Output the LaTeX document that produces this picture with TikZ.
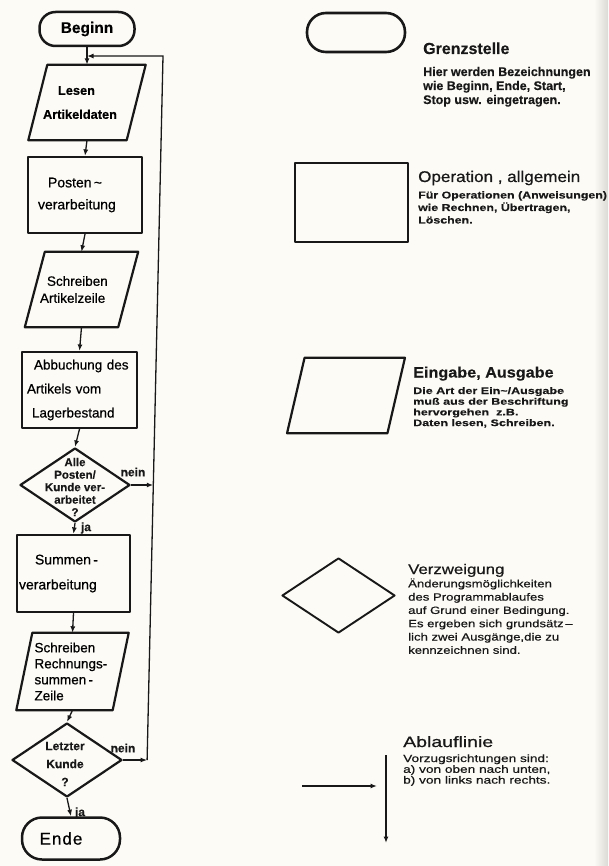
\documentclass[tikz,border=0pt]{standalone}
\usepackage{fontspec}
\setmainfont[UprightFeatures={FakeBold=0.6},BoldFeatures={FakeBold=0.3}]{Liberation Sans}
\usetikzlibrary{shapes.geometric,arrows.meta,calc}
\definecolor{ink}{RGB}{24,24,24}
\definecolor{paper}{RGB}{252,251,246}
\newcommand\legf[3]{\addfontfeature{FakeStretch=#1}\fontsize{#2}{#3}\selectfont}
\newcommand\drawpara[2]{\draw[shp] ($(#1.north west)+(#2,0)$) -- ($(#1.north east)+(#2,0)$) -- ($(#1.south east)-(#2,0)$) -- ($(#1.south west)-(#2,0)$) -- cycle;}
\begin{document}
\begin{tikzpicture}[x=1pt,y=-1pt,
  shp/.style={draw=ink,line width=2.2pt,line join=round},
  term/.style={shp,rectangle,inner sep=0pt},
  opbox/.style={shp,rectangle,align=left,inner ysep=0pt},
  iobox/.style={rectangle,align=left,inner ysep=0pt},
  decide/.style={shp,diamond,inner sep=0pt,minimum width=110pt,minimum height=74pt},
  conn/.style={draw=ink,line width=1.3pt},
  arr/.style={conn,-{Latex[length=6.5pt,width=5pt]}},
  lab/.style={font=\bfseries\fontsize{12}{14}\selectfont,inner sep=0pt,text=ink},
  leg/.style={anchor=base west,inner sep=0pt,text=ink},
]
\useasboundingbox (0,0) rectangle (608,866);
\fill[paper] (0,0) rectangle (608,866);
\shade[left color=paper,right color={rgb,255:red,220;green,218;blue,212}] (594,0) rectangle (608,866);

% ---- flowchart ----
\node[term,line width=2.5pt,rounded corners=16pt,minimum width=95pt,minimum height=34pt,font=\bfseries\fontsize{15.5}{18}\selectfont] (beginn) at (87,29) {Beginn};

\node[iobox,text width=88pt,inner xsep=5pt,minimum height=75pt,font=\bfseries\fontsize{12.8}{23}\selectfont] (lesen) at (87,102.5) {\hspace*{15pt}Lesen\\[1pt]Artikeldaten};
\drawpara{lesen}{9.5}

\node[opbox,text width=94pt,inner xsep=10pt,minimum height=76pt,font=\fontsize{14}{22}\selectfont] (posten) at (85,195) {\hspace*{10pt}Posten\,\textasciitilde\\verarbeitung};

\node[iobox,text width=83pt,inner xsep=5pt,minimum height=75pt,font=\fontsize{13.5}{17}\selectfont] (schr1) at (81.5,289.5) {\hspace*{7pt}Schreiben\\Artikelzeile};
\drawpara{schr1}{10}

\node[opbox,text width=105pt,inner xsep=5pt,minimum height=76pt,font=\fontsize{13.5}{24}\selectfont] (abbu) at (79.5,390) {\hspace*{7pt}Abbuchung des\\Artikels vom\\\hspace*{5pt}Lagerbestand};

\node[decide] (d1) at (75,485) {};
\node[font=\bfseries\fontsize{11.5}{12.5}\selectfont,align=center,inner sep=0pt,text=ink] (d1t) at ($(d1.center)+(0,2)$) {Alle\\Posten/\\Kunde ver-\\arbeitet\\?};

\node[opbox,text width=109pt,inner xsep=2pt,minimum height=77pt,font=\fontsize{14}{25}\selectfont] (summen) at (73.5,573.5) {\hspace*{16pt}Summen\,-\\verarbeitung};

\node[iobox,text width=76pt,inner xsep=10pt,minimum height=77pt,font=\fontsize{13.5}{16}\selectfont] (schr2) at (72.5,671.5) {Schreiben\\Rechnungs-\\summen\,-\\Zeile};
\drawpara{schr2}{8}

\node[decide] (d2) at (67,760) {};
\node[font=\bfseries\fontsize{12}{18}\selectfont,align=center,inner sep=0pt,text=ink] (d2t) at ($(d2.center)+(-2,4)$) {Letzter\\Kunde\\?};

\node[term,line width=2.5pt,rounded corners=20pt,minimum width=98pt,minimum height=42pt,font=\fontsize{17}{20}\selectfont\addfontfeature{LetterSpace=6}] (ende) at (71,838.5) {Ende\hspace*{20pt}};

\draw[arr] (beginn.south) -- (lesen.north);
\draw[arr] (lesen.south) -- (posten.north);
\draw[arr] (posten.south) -- (schr1.north);
\draw[arr] (schr1.south) -- (abbu.north);
\draw[arr] (abbu.south) -- (d1.north);
\draw[arr] (d1.south) -- (summen.north);
\draw[arr] (summen.south) -- (schr2.north);
\draw[arr] (schr2.south) -- (d2.north);
\draw[arr] (d2.south) -- (ende.north);

\coordinate (j0) at ($(beginn.south)!0.5!(lesen.north)$);
\coordinate (ltop) at ($(j0)+(76,0)$);
\coordinate (lbot) at ($(d2.east)+(24,0)$);
\path (lbot) -- (ltop) coordinate[pos=0.3875] (j1);
\draw[arr] (d2.east) -- (lbot);
\draw[arr] (lbot) -- (ltop) -- (j0);
\draw[arr] (d1.east) -- (d1.east -| j1);

\node[lab] (n1) at (133,472) {nein};
\node[lab] (y1) at (86,528) {ja};
\node[lab] (n2) at (123,748) {nein};
\node[lab] (y2) at (80,813) {ja};

% ---- legend ----
\node[term,line width=2.6pt,rounded corners=19pt,minimum width=98pt,minimum height=39pt] (gterm) at (356,32.5) {};
\node[shp,rectangle,minimum width=113pt,minimum height=79pt,inner sep=0pt] (gop) at (351.5,202.5) {};
\node[rectangle,minimum width=100pt,minimum height=75pt,inner sep=0pt] (gio) at (346,395.5) {};
\drawpara{gio}{8.75}
\node[shp,line width=1.9pt,diamond,minimum width=113pt,minimum height=75pt,inner sep=0pt] (gdec) at (338.5,595.5) {};
\coordinate (ha) at (302,786);
\coordinate (hb) at (377,786);
\coordinate (va) at (386,755);
\coordinate (vb) at (386,843);
\draw[arr] (ha) -- (hb);
\draw[arr] (va) -- (vb);

\node[leg] (tg) at (423,54) {\bfseries\legf{1.0}{16}{18}Grenzstelle};
\node[leg] (dg) at (423,76) {\bfseries\legf{1.0}{12.5}{14}\vtop{\hbox{Hier werden Bezeichnungen}\hbox{wie Beginn, Ende, Start,}\hbox{Stop usw. eingetragen.}}};

\node[leg] (to) at (418,182) {\addfontfeature{FakeBold=0.8}\legf{1.1}{15.5}{18}Operation , allgemein};
\node[leg] (do) at (418,198.5) {\bfseries\legf{1.24}{10}{12.5}\vtop{\hbox{Für Operationen (Anweisungen)}\hbox{wie Rechnen, Übertragen,}\hbox{Löschen.}}};

\node[leg] (te) at (413,377.5) {\bfseries\legf{1.08}{15}{18}Eingabe, Ausgabe};
\node[leg] (de) at (413,394) {\bfseries\legf{1.32}{9.5}{10.7}\vtop{\hbox{Die Art der Ein\textasciitilde/Ausgabe}\hbox{muß aus der Beschriftung}\hbox{hervorgehen\ \ z.B.}\hbox{Daten lesen, Schreiben.}}};

\node[leg] (tv) at (408,574) {\addfontfeature{FakeBold=0.8}\legf{1.2}{14}{18}Verzweigung};
\node[leg] (dv) at (408,587.3) {\addfontfeature{FakeBold=0.5}\legf{1.25}{10.5}{13.3}\vtop{\hbox{Änderungsmöglichkeiten}\hbox{des Programmablaufes}\hbox{auf Grund einer Bedingung.}\hbox{Es ergeben sich grundsätz\,–}\hbox{lich zwei Ausgänge,die zu}\hbox{kennzeichnen sind.}}};

\node[leg] (ta) at (403,747) {\addfontfeature{FakeBold=0.8}\legf{1.3}{15}{18}Ablauflinie};
\node[leg] (da) at (403,762) {\addfontfeature{FakeBold=0.5}\legf{1.3}{10.5}{10.8}\vtop{\hbox{Vorzugsrichtungen sind:}\hbox{a) von oben nach unten,}\hbox{b) von links nach rechts.}}};
\end{tikzpicture}
\end{document}
